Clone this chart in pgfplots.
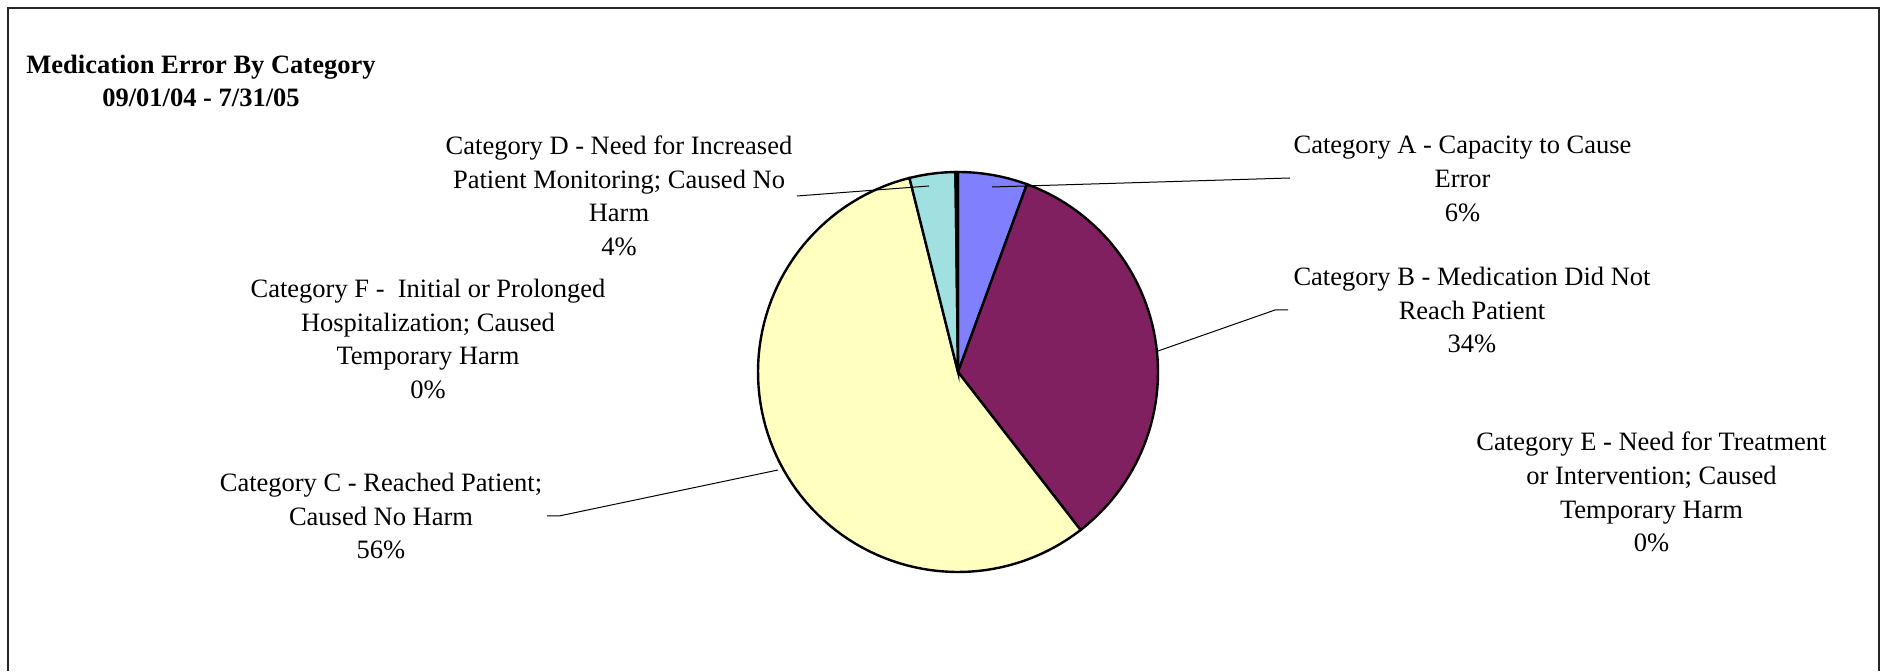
\documentclass[border=0pt]{standalone}
\usepackage{fontspec}
\setmainfont{Liberation Serif}
\usepackage{pgfplots}
\pgfplotsset{compat=1.18}
\definecolor{cA}{HTML}{8080FF}
\definecolor{cB}{HTML}{802060}
\definecolor{cC}{HTML}{FFFFC0}
\definecolor{cD}{HTML}{A0E0E0}
\definecolor{cE}{HTML}{660066}
% slice shares in percent (clockwise from 12 o'clock)
\def\pA{5.6}
\def\pB{33.9}
\def\pC{56.6}
\def\pD{3.7}
\def\pE{0.2}
\def\pF{0}
\tikzset{lbl/.style={font=\fontsize{13.25}{16.85}\selectfont, align=center, inner sep=0pt}}
\begin{document}
\begin{tikzpicture}
\begin{axis}[
  width=942.5pt, height=335.5pt, scale only axis,
  xmin=0, xmax=1885, ymin=0, ymax=671, y dir=reverse,
  hide axis, clip=false,
]
\path (axis cs:0,0) rectangle (axis cs:1885,671);
% frame (open at bottom)
\addplot[black!85, line width=1pt] coordinates {(8,671) (8,8) (1879,8) (1879,671)};
% pie slices
\addplot[fill=cA, draw=black, line width=1.2pt, domain={0}:{3.6*\pA}, samples=20, variable=\t]
  ({958+200*sin(t)},{372-200*cos(t)}) -- (axis cs:958,372) -- cycle;
\addplot[fill=cB, draw=black, line width=1.2pt, domain={3.6*\pA}:{3.6*(\pA+\pB)}, samples=60, variable=\t]
  ({958+200*sin(t)},{372-200*cos(t)}) -- (axis cs:958,372) -- cycle;
\addplot[fill=cC, draw=black, line width=1.2pt, domain={3.6*(\pA+\pB)}:{3.6*(\pA+\pB+\pC)}, samples=90, variable=\t]
  ({958+200*sin(t)},{372-200*cos(t)}) -- (axis cs:958,372) -- cycle;
\addplot[fill=cD, draw=black, line width=1.2pt, domain={3.6*(\pA+\pB+\pC)}:{3.6*(\pA+\pB+\pC+\pD)}, samples=10, variable=\t]
  ({958+200*sin(t)},{372-200*cos(t)}) -- (axis cs:958,372) -- cycle;
\addplot[fill=cE, draw=black, line width=1.2pt, domain={3.6*(\pA+\pB+\pC+\pD)}:{3.6*(\pA+\pB+\pC+\pD+\pE)}, samples=3, variable=\t]
  ({958+200*sin(t)},{372-200*cos(t)}) -- (axis cs:958,372) -- cycle;
% leader lines
\addplot[black, line width=0.5pt] coordinates {(992,187) (1290,178)};
\addplot[black, line width=0.5pt] coordinates {(1158,351) (1275,310) (1288,310)};
\addplot[black, line width=0.5pt] coordinates {(778,470) (559,516) (547,516)};
\addplot[black, line width=0.5pt] coordinates {(797,196) (929,186)};
% title
\node[lbl, font=\fontsize{13.25}{16.85}\selectfont\bfseries] at (axis cs:201,81)
  {Medication Error By Category\\09/01/04 - 7/31/05};
% labels
\node[lbl] at (axis cs:1462.5,179) {Category A - Capacity to Cause\\Error\\6\%};
\node[lbl] at (axis cs:1472,310) {Category B - Medication Did Not\\Reach Patient\\34\%};
\node[lbl] at (axis cs:381,516) {Category C - Reached Patient;\\Caused No Harm\\56\%};
\node[lbl] at (axis cs:619,196) {Category D - Need for Increased\\Patient Monitoring; Caused No\\Harm\\4\%};
\node[lbl] at (axis cs:1651.5,492) {Category E - Need for Treatment\\or Intervention; Caused\\Temporary Harm\\0\%};
\node[lbl] at (axis cs:428,339) {Category F - \ Initial or Prolonged\\Hospitalization; Caused\\Temporary Harm\\0\%};
\end{axis}
\end{tikzpicture}
\end{document}
